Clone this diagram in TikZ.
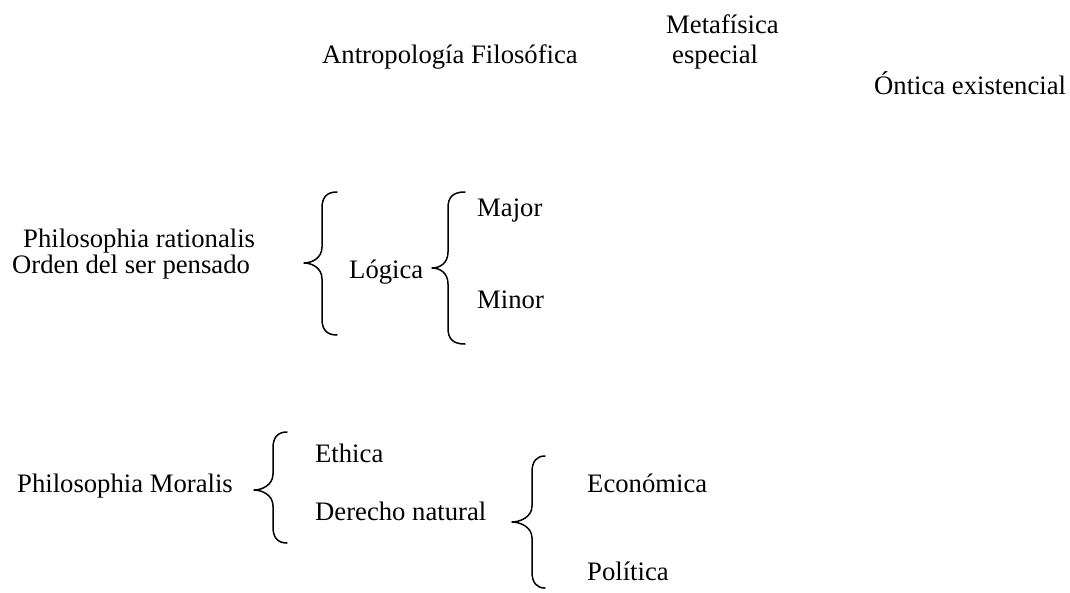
\documentclass[tikz,border=0pt]{standalone}
\usepackage{fontspec}
\setmainfont{Liberation Serif}
\newcommand\curlyb[6]{% tip x, vertical x, end x, top y, mid y, bottom y
  \draw[brc] (#3,#4) .. controls (#2+5,#4) and (#2,#4+5) .. (#2,#4+16)
    -- (#2,#5-16) .. controls (#2,#5-5) and (#1+8,#5) .. (#1,#5)
    .. controls (#1+8,#5) and (#2,#5+5) .. (#2,#5+16)
    -- (#2,#6-16) .. controls (#2,#6-5) and (#2+5,#6) .. (#3,#6);}
\begin{document}
\begin{tikzpicture}[x=1pt,y=-1pt,
  lbl/.style={anchor=base west, inner sep=0pt, font=\fontsize{26.67}{32}\selectfont},
  brc/.style={line width=1.5pt, line cap=round, line join=round}]
\useasboundingbox[fill=white] (0,0) rectangle (1070,592);
% top row
\node[lbl] (meta) at (666,33) {Metafísica};
\node[lbl] (esp) at (672,63) {especial};
\node[lbl] (antro) at (322,63) {Antropología Filosófica};
\node[lbl] (ontica) at (874,94) {Óntica existencial};
% rationalis block
\node[lbl] (prat) at (23,247) {Philosophia rationalis};
\node[lbl] (orden) at (12,273) {Orden del ser pensado};
\curlyb{304}{322}{337}{192}{263}{335}
\node[lbl] (logica) at (349,278) {Lógica};
\curlyb{432}{448}{465}{192}{268}{344}
\node[lbl] (major) at (477,216) {Major};
\node[lbl] (minor) at (477,308) {Minor};
% moralis block
\node[lbl] (pmor) at (17,492) {Philosophia Moralis};
\curlyb{254}{273}{287}{432}{490}{543}
\node[lbl] (ethica) at (315,462) {Ethica};
\node[lbl] (derecho) at (315,520) {Derecho natural};
\curlyb{512}{532}{545}{456}{522}{588}
\node[lbl] (econ) at (587,492) {Económica};
\node[lbl] (poli) at (587,580) {Política};
\end{tikzpicture}
\end{document}
